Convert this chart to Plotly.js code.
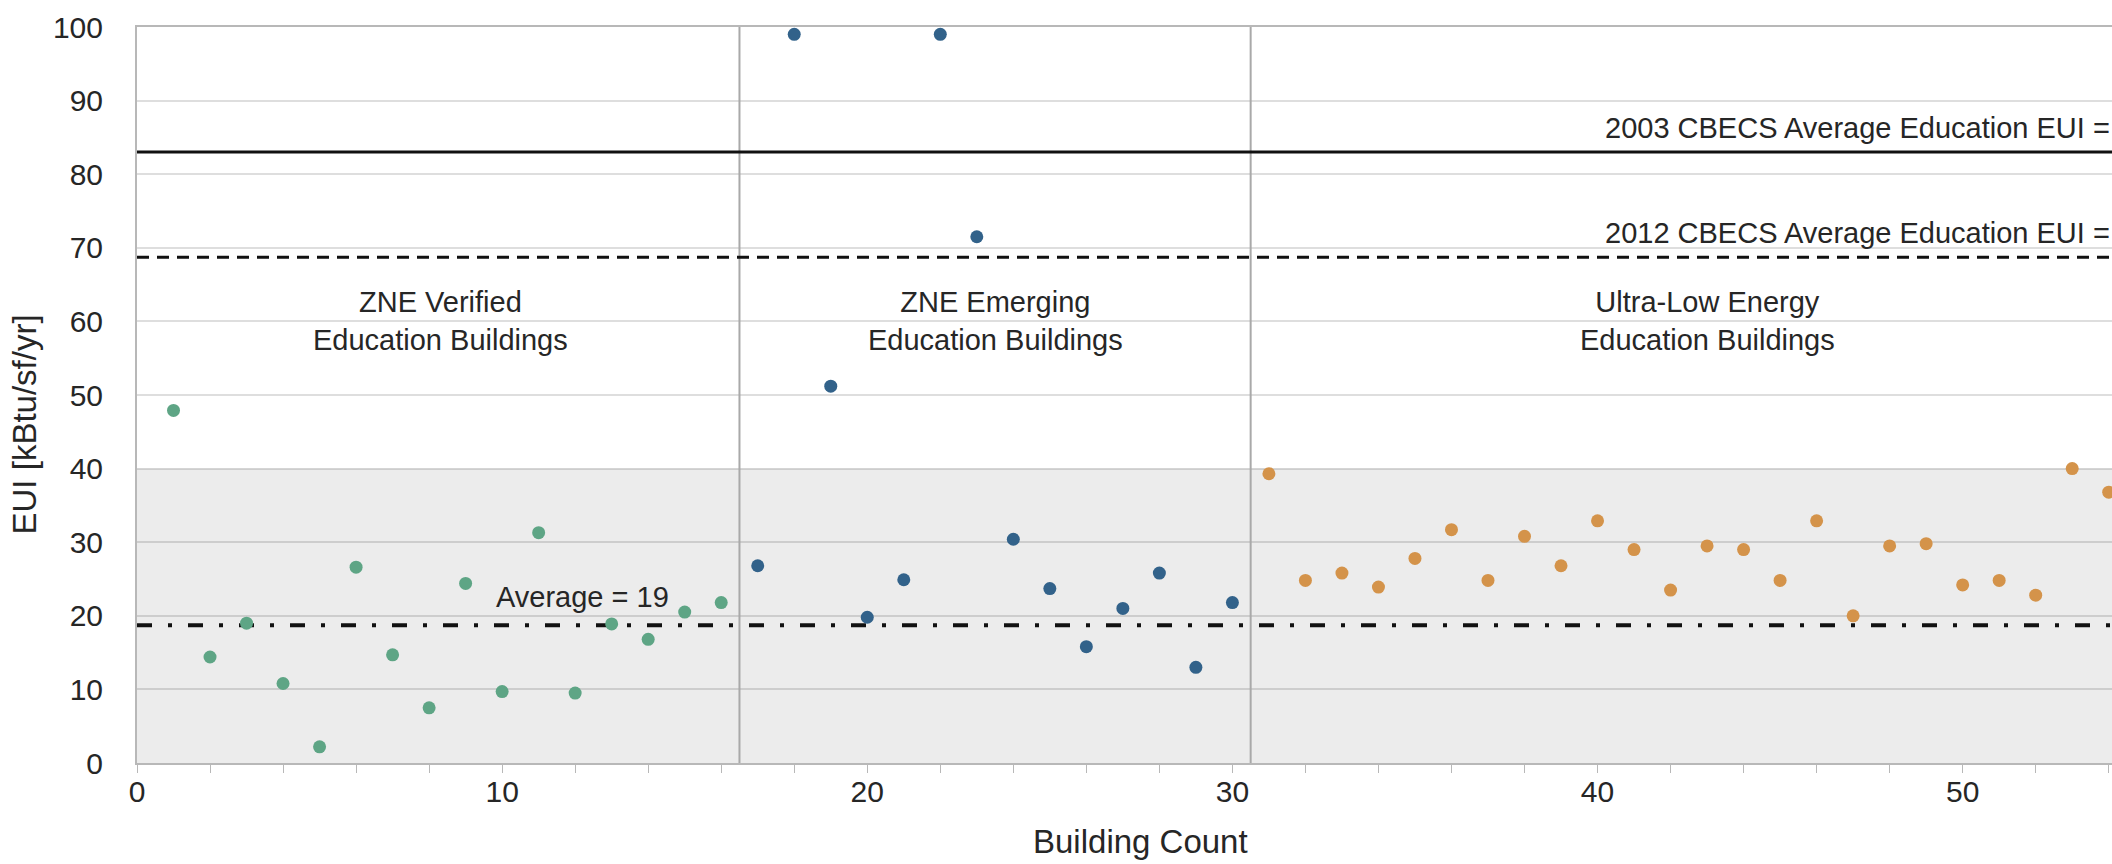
<!DOCTYPE html>
<html>
<head>
<meta charset="utf-8">
<script src="https://cdn.plot.ly/plotly-3.0.1.min.js"></script>
<style>html,body{margin:0;padding:0;background:#fff;}#chart{width:2112px;height:864px;}</style>
</head>
<body>
<div id="chart"></div>
<script>
// ZNE Verified Education Buildings
const verifiedX = [1,2,3,4,5,6,7,8,9,10,11,12,13,14,15,16];
const verifiedEUI = [47.9,14.4,19.0,10.8,2.2,26.6,14.7,7.5,24.4,9.7,31.3,9.5,18.9,16.8,20.5,21.8];
// ZNE Emerging Education Buildings
const emergingX = [17,18,19,20,21,22,23,24,25,26,27,28,29,30];
const emergingEUI = [26.8,99.0,51.2,19.8,24.9,99.0,71.5,30.4,23.7,15.8,21.0,25.8,13.0,21.8];
// Ultra-Low Energy Education Buildings
const ultraX = [31,32,33,34,35,36,37,38,39,40,41,42,43,44,45,46,47,48,49,50,51,52,53,54];
const ultraEUI = [39.3,24.8,25.8,23.9,27.8,31.7,24.8,30.8,26.8,32.9,29.0,23.5,29.5,29.0,24.8,32.9,20.0,29.5,29.8,24.2,24.8,22.8,40.0,36.8];

// Reference lines / bands
const cbecs2003 = 83.0;
const cbecs2012 = 68.7;
const verifiedAverage = 18.7;
const bandTop = 40;
const groupDividers = [16.5, 30.5];

// Labels
const groupLabels = ["ZNE Verified<br>Education Buildings", "ZNE Emerging<br>Education Buildings", "Ultra-Low Energy<br>Education Buildings"];
const groupLabelX = [8.3, 23.5, 43.0];
const groupLabelY = 60;
const cbecs2003Label = "2003 CBECS Average Education EUI =";
const cbecs2012Label = "2012 CBECS Average Education EUI =";
const averageLabel = "Average = 19";
const xTitle = "Building Count";
const yTitle = "EUI [kBtu/sf/yr]";
const yTicks = [0,10,20,30,40,50,60,70,80,90,100];
const xTicks = [0,10,20,30,40,50];

const FONT = 'Arial, "Liberation Sans", Helvetica, sans-serif';
const TXT = '#262626';

const marker = (c) => ({size: 13, color: c, line: {width: 0}});
const traces = [
  {x: verifiedX, y: verifiedEUI, type: 'scatter', mode: 'markers', marker: marker('#5ea585'), name: 'ZNE Verified'},
  {x: emergingX, y: emergingEUI, type: 'scatter', mode: 'markers', marker: marker('#32628a'), name: 'ZNE Emerging'},
  {x: ultraX, y: ultraEUI, type: 'scatter', mode: 'markers', marker: marker('#d4934a'), name: 'Ultra-Low Energy'}
];

const shapes = [
  {type: 'rect', xref: 'paper', yref: 'y', x0: 0, x1: 1, y0: 0, y1: bandTop, fillcolor: '#ececec', line: {width: 0}, layer: 'below'},
  ...groupDividers.map(d => ({type: 'line', xref: 'x', yref: 'y', x0: d, x1: d, y0: 0, y1: 100, line: {color: '#a9a9a9', width: 2}, layer: 'between'})),
  {type: 'line', xref: 'paper', yref: 'y', x0: 0, x1: 1, y0: cbecs2003, y1: cbecs2003, line: {color: '#111', width: 3}},
  {type: 'line', xref: 'paper', yref: 'y', x0: 0, x1: 1, y0: cbecs2012, y1: cbecs2012, line: {color: '#111', width: 3, dash: '12px,8px'}},
  {type: 'line', xref: 'paper', yref: 'y', x0: 0, x1: 1, y0: verifiedAverage, y1: verifiedAverage, line: {color: '#111', width: 4, dash: '15px,16px,4px,16px'}, layer: 'between'}
];

const annFont = {family: FONT, size: 29, color: TXT};
const titleFont = {family: FONT, size: 33, color: TXT};
const annotations = [
  ...groupLabels.map((t, i) => ({x: groupLabelX[i], y: groupLabelY, xref: 'x', yref: 'y', text: t, showarrow: false, font: annFont, align: 'center', xanchor: 'center', yanchor: 'middle'})),
  {x: 1, y: cbecs2003 + 3.3, xref: 'paper', yref: 'y', text: cbecs2003Label, showarrow: false, font: annFont, xanchor: 'right', yanchor: 'middle'},
  {x: 1, y: cbecs2012 + 3.3, xref: 'paper', yref: 'y', text: cbecs2012Label, showarrow: false, font: annFont, xanchor: 'right', yanchor: 'middle'},
  {x: 12.2, y: verifiedAverage + 3.8, xref: 'x', yref: 'y', text: averageLabel, showarrow: false, font: annFont, xanchor: 'center', yanchor: 'middle'},
  {x: 0.508, y: -0.106, xref: 'paper', yref: 'paper', text: xTitle, showarrow: false, font: titleFont, xanchor: 'center', yanchor: 'middle'},
  {x: -0.0572, y: 0.46, xref: 'paper', yref: 'paper', text: yTitle, showarrow: false, font: titleFont, textangle: -90, xanchor: 'center', yanchor: 'middle'}
];

const layout = {
  width: 2112, height: 864,
  margin: {l: 137, r: 0, t: 27, b: 101, pad: 0},
  paper_bgcolor: '#ffffff', plot_bgcolor: 'rgba(0,0,0,0)',
  showlegend: false,
  font: {family: FONT, color: TXT},
  xaxis: {
    range: [0, 54.09], tickvals: xTicks, ticktext: xTicks.map(String),
    showgrid: false, zeroline: false,
    showline: true, linecolor: '#b8b8b8', linewidth: 2, mirror: true,
    ticks: 'outside', ticklen: 8, tickcolor: '#b8b8b8', tickwidth: 1,
    minor: {dtick: 2, tick0: 0, ticks: 'outside', ticklen: 8, tickcolor: '#b8b8b8', tickwidth: 1, showgrid: false},
    ticklabelstandoff: -7,
    tickfont: {family: FONT, size: 30, color: TXT}
  },
  yaxis: {
    range: [0, 100], tickvals: yTicks, ticktext: yTicks.map(String),
    showgrid: true, gridcolor: 'rgba(0,0,0,0.13)', gridwidth: 2,
    zeroline: false, showline: true, linecolor: '#b8b8b8', linewidth: 2,
    ticks: '', ticklabelstandoff: 26,
    tickfont: {family: FONT, size: 30, color: TXT}
  },
  shapes: shapes,
  annotations: annotations
};

Plotly.newPlot('chart', traces, layout, {displayModeBar: false, staticPlot: true});
</script>
</body>
</html>
